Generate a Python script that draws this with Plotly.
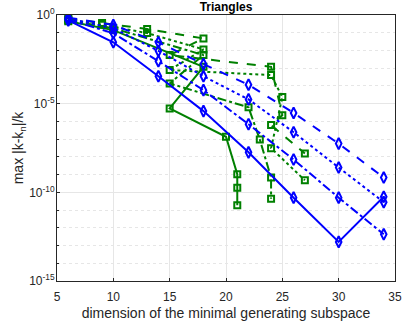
import plotly.graph_objects as go

BLUE = "#0000FF"
GREEN = "#008000"

# blue curves (diamonds)
blue_x = [6, 10, 14, 18, 22, 26, 30, 34]
blue_dash = [0.708, 0.275, 0.0288, 1.7e-3, 1.17e-4, 3.0e-6, 5.6e-8, 6.8e-10]
blue_dot = [0.631, 0.178, 9.5e-3, 3.5e-4, 1.74e-5, 2.45e-7, 2.5e-9, 2.8e-11]
blue_dashdot = [0.562, 0.093, 2.5e-3, 5.8e-5, 6.9e-7, 7.1e-9, 5.0e-11, 4.3e-13]
blue_solid = [0.5, 0.029, 3.5e-4, 3.8e-6, 1.8e-8, 5.0e-11, 1.6e-13, 5.6e-11]

# green curves (squares) - dimension is not monotone along these
green_dash_x = [6, 9, 13, 18, 15, 24, 25, 24, 27]
green_dash = [0.63, 0.355, 0.162, 0.0479, 5.5e-3, 1.2e-3, 2.24e-6, 6.2e-7, 1.55e-8]
green_dot_x = [6, 9, 13, 18, 15, 24, 25, 24, 27]
green_dot = [0.562, 0.282, 0.0955, 0.0115, 7.9e-4, 4.1e-4, 2.34e-5, 3.1e-8, 4.8e-10]
green_dashdot_x = [6, 10, 18, 15, 22, 23, 24, 24]
green_dashdot = [0.5, 0.178, 5.5e-3, 1.38e-4, 6.2e-6, 9.5e-8, 6.8e-10, 4.4e-11]
green_solid_x = [6, 10, 18, 15, 20, 21, 21, 21]
green_solid = [0.447, 0.141, 1.2e-3, 5.4e-6, 1.35e-7, 1.05e-9, 1.8e-10, 1.86e-11]

y_ticks = [1e-15, 1e-10, 1e-5, 1]
y_ticktext = ["10<sup>-15</sup>", "10<sup>-10</sup>", "10<sup>-5</sup>", "10<sup>0</sup>"]
minor_ticks = [10.0 ** -k for k in range(1, 15) if k % 5]

fig = go.Figure()

green_series = [
    (green_solid_x, green_solid, "solid"),
    (green_dash_x, green_dash, "dash"),
    (green_dot_x, green_dot, "dot"),
    (green_dashdot_x, green_dashdot, "dashdot"),
]
for x, y, dash in green_series:
    fig.add_trace(go.Scatter(
        x=x, y=y, mode="lines+markers",
        line=dict(color=GREEN, width=2, dash=dash),
        marker=dict(symbol="square-open", size=6, color=GREEN, line=dict(width=2)),
    ))

blue_series = [
    (blue_solid, "solid"),
    (blue_dash, "dash"),
    (blue_dot, "dot"),
    (blue_dashdot, "dashdot"),
]
for y, dash in blue_series:
    fig.add_trace(go.Scatter(
        x=blue_x, y=y, mode="lines+markers",
        line=dict(color=BLUE, width=2, dash=dash),
        marker=dict(symbol="diamond-tall-open", size=8, color=BLUE, line=dict(width=2)),
    ))

fig.update_layout(
    width=403, height=321,
    margin=dict(l=57, r=8, t=15, b=40),
    paper_bgcolor="white", plot_bgcolor="white",
    showlegend=False,
    font=dict(family="Liberation Sans, Arial, sans-serif", size=12, color="#262626"),
    title=dict(text="<b>Triangles</b>", xref="paper", x=0.5, xanchor="center",
               yref="container", y=1 - 7 / 321, yanchor="middle",
               font=dict(size=12, color="black")),
)
fig.update_xaxes(
    range=[5, 35], tickvals=[5, 10, 15, 20, 25, 30, 35], automargin=False,
    ticklabelstandoff=5,
    title=dict(text="dimension of the minimal generating subspace", standoff=4),
    showgrid=True, gridcolor="#E6E6E6", gridwidth=1,
    showline=True, linecolor="#262626", linewidth=1, mirror=True,
    ticks="inside", ticklen=3, tickcolor="#262626", zeroline=False,
)
fig.update_yaxes(
    type="log", range=[-15, 0], tickvals=y_ticks, ticktext=y_ticktext, automargin=False,
    ticklabelstandoff=-1,
    title=dict(text="max |k-k<sub>n</sub>|/k", standoff=2),
    showgrid=True, gridcolor="#E6E6E6", gridwidth=1,
    minor=dict(tickvals=minor_ticks, showgrid=True, gridcolor="#E6E6E6", griddash="dot",
               ticks="inside", ticklen=2, tickcolor="#262626"),
    showline=True, linecolor="#262626", linewidth=1, mirror=True,
    ticks="inside", ticklen=3, tickcolor="#262626", zeroline=False,
)

fig.write_html("out.html", config={"displayModeBar": False},
               post_script="document.body.style.margin = '0';")
